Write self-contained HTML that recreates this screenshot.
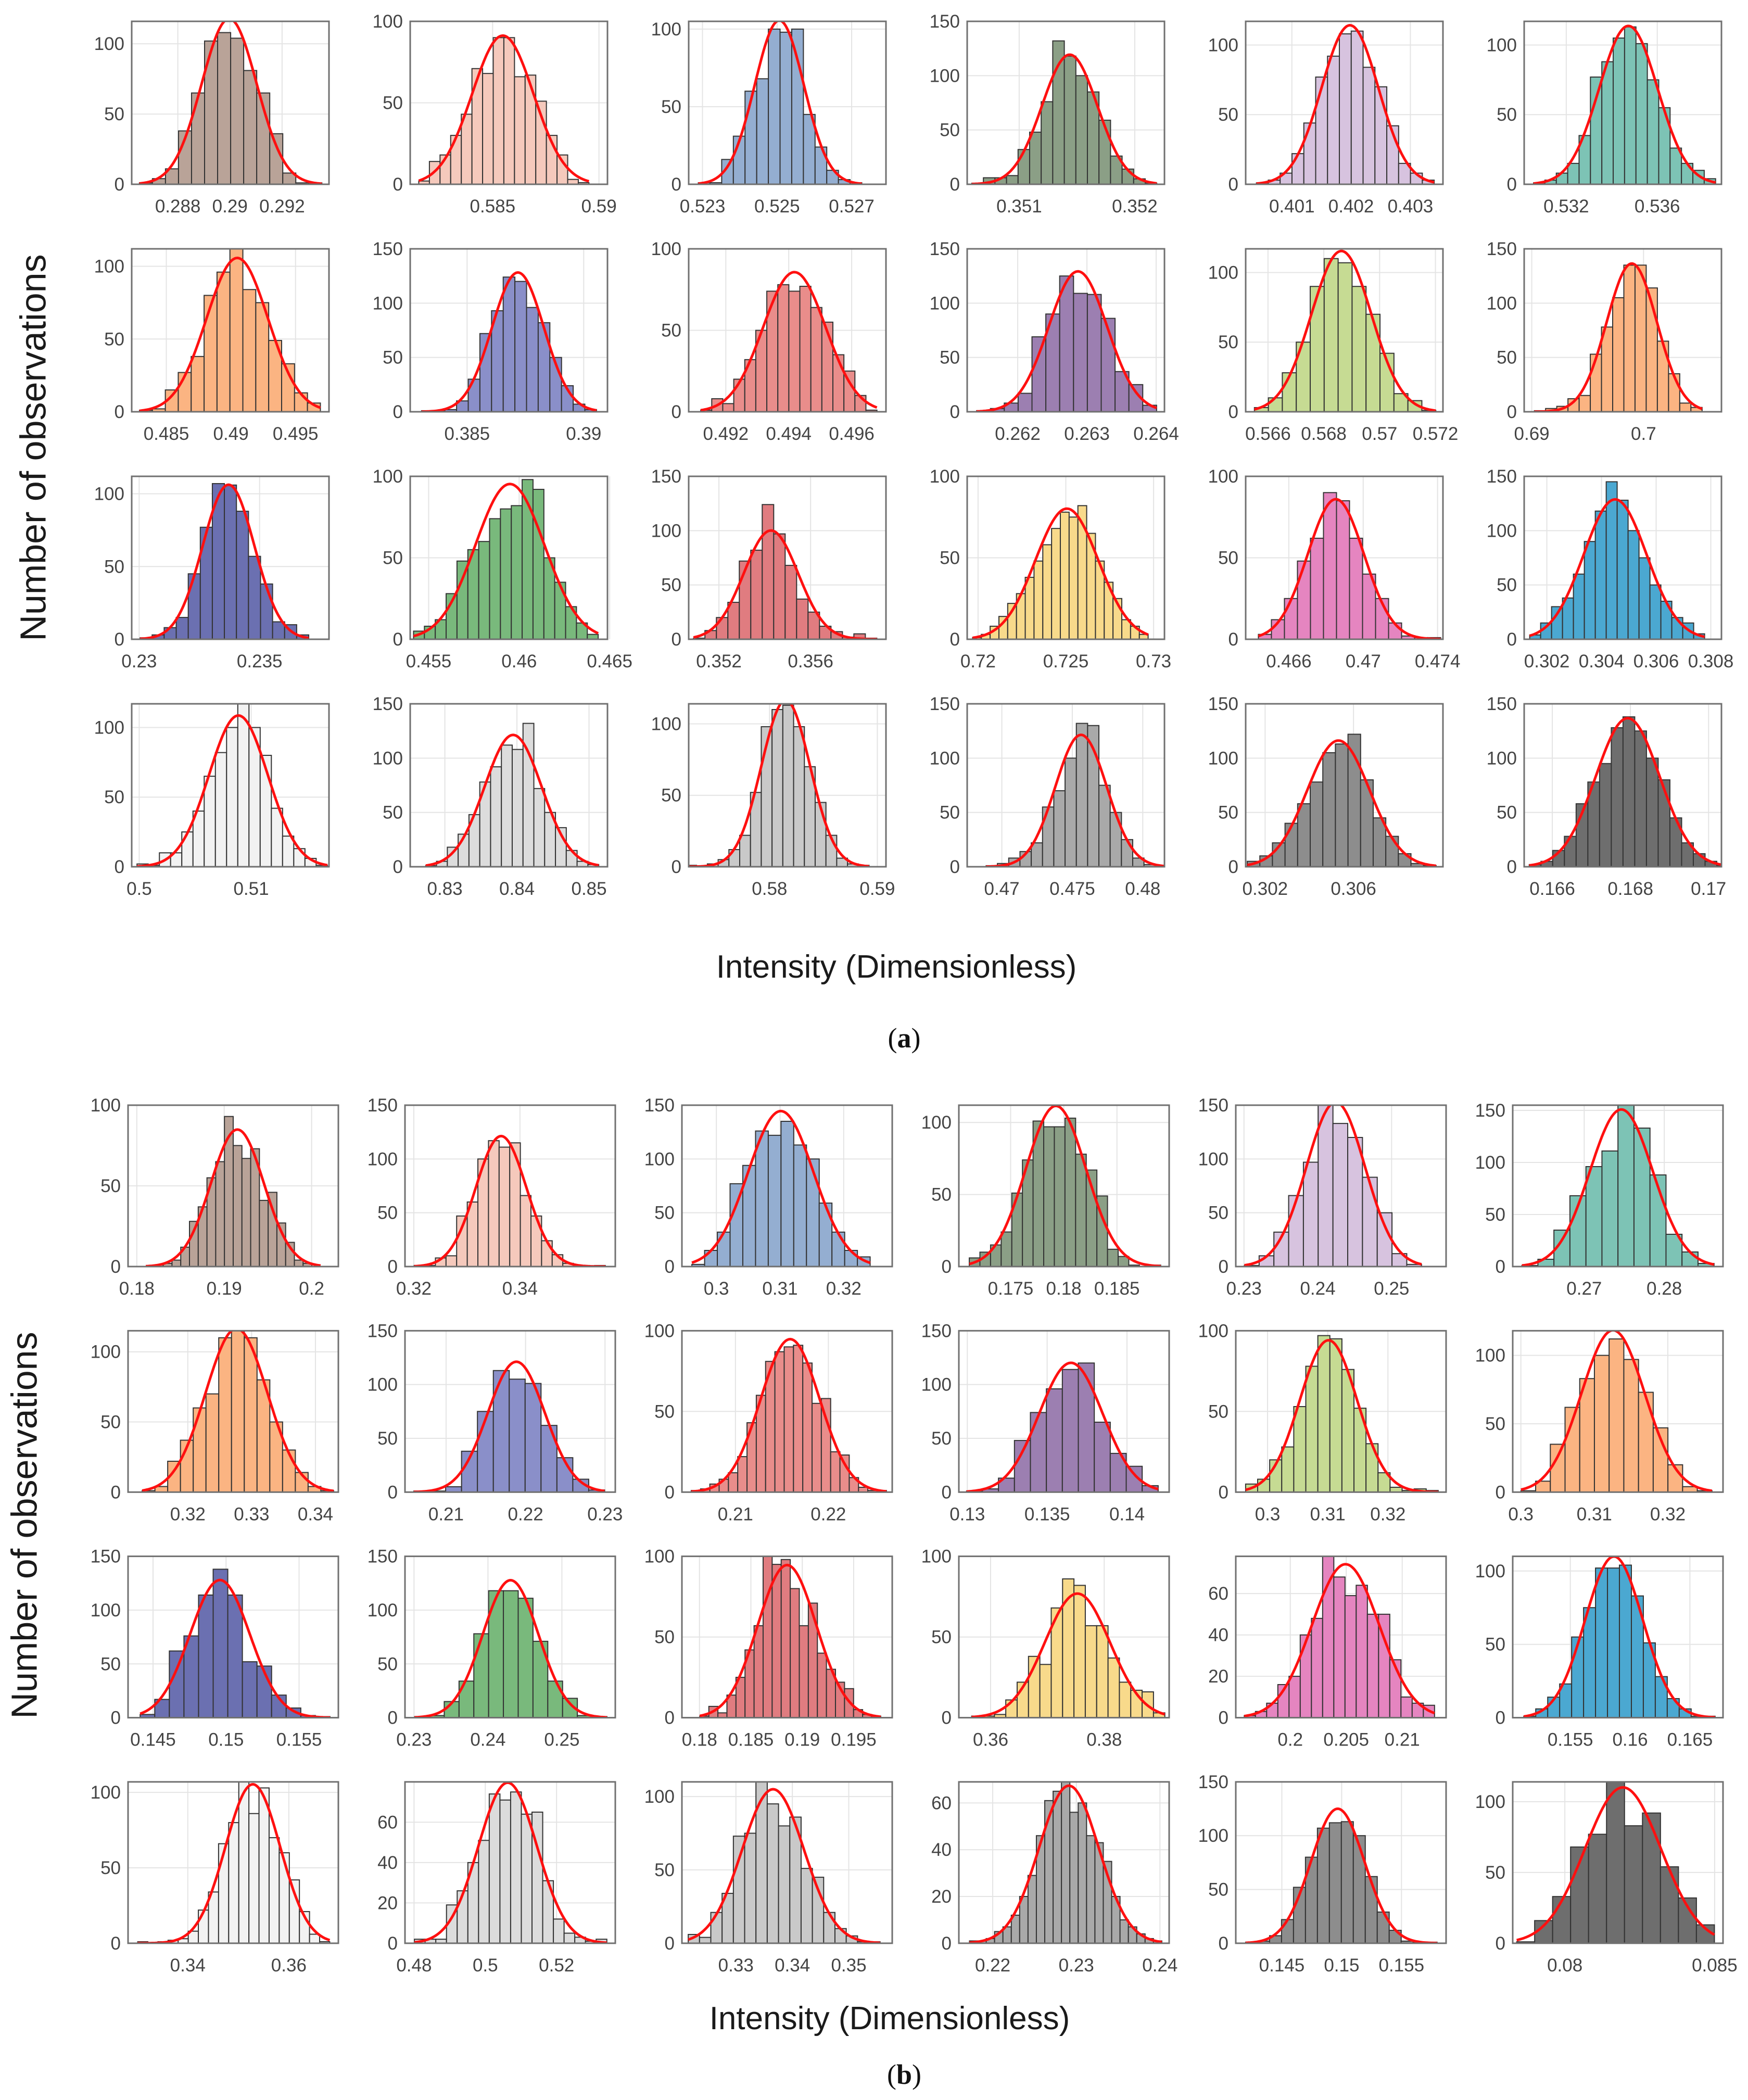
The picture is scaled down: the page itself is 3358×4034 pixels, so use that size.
<!DOCTYPE html>
<html><head><meta charset="utf-8"><title>Histograms</title>
<style>
html,body{margin:0;padding:0;background:#fff;}
svg{display:block;}
text{font-family:"Liberation Sans",sans-serif;}
</style></head>
<body>
<svg id="fig" xmlns="http://www.w3.org/2000/svg" width="3358" height="4034" viewBox="0 0 3358 4034">
<rect x="0" y="0" width="3358" height="4034" fill="#fff"/>
<text x="69" y="860" transform="rotate(-90 69 860)" text-anchor="middle" dominant-baseline="middle" font-size="70" fill="#1a1a1a">Number of observations</text>
<text x="1722" y="1878" text-anchor="middle" font-size="62" fill="#1a1a1a">Intensity (Dimensionless)</text>
<text x="1737" y="2012" text-anchor="middle" font-size="54" fill="#111" style="font-family:'Liberation Serif',serif">(<tspan font-weight="bold">a</tspan>)</text>
<text x="52" y="2930" transform="rotate(-90 52 2930)" text-anchor="middle" dominant-baseline="middle" font-size="70" fill="#1a1a1a">Number of observations</text>
<text x="1709" y="3898" text-anchor="middle" font-size="62" fill="#1a1a1a">Intensity (Dimensionless)</text>
<text x="1737" y="4003" text-anchor="middle" font-size="54" fill="#111" style="font-family:'Liberation Serif',serif">(<tspan font-weight="bold">b</tspan>)</text>
</svg>
<script>
// ---- data (one entry per panel, 24 in (a) then 24 in (b)) ----
const xMin = [0.28623,0.581125,0.52263,0.35055,0.40022,0.53015, 0.48232,0.38256,0.49082,0.26127,0.5652,0.68932, 0.22969,0.45398,0.35068,0.71938,0.46368,0.30117, 0.49933,0.82519,0.5725,0.46754,0.30112,0.16528,
 0.179,0.31834,0.29459,0.17013,0.22889,0.26107, 0.31064,0.20483,0.20424,0.12947,0.29472,0.29889, 0.14329,0.22878,0.17829,0.35441,0.19513,0.15018, 0.32818,0.47746,0.32043,0.21595,0.14115,0.07826];
const xMax = [0.2938,0.5904,0.52792,0.352257,0.40355,0.53882, 0.49759,0.39102,0.49709,0.26412,0.57227,0.70697, 0.23788,0.46488,0.35929,0.73062,0.47429,0.30839, 0.51695,0.85256,0.5908,0.48154,0.31005,0.17033,
 0.20306,0.35796,0.32762,0.18991,0.25738,0.28734, 0.34359,0.23129,0.22687,0.14264,0.32966,0.32751, 0.15769,0.25722,0.19875,0.39143,0.21392,0.16777, 0.3698,0.53648,0.3577,0.2411,0.15873,0.08528];
const yMax = [116,100,105,150,117,117, 112,150,100,150,117,150, 112,100,150,100,100,150, 117,150,114,150,150,150,
 100,150,150,112,150,155, 115,150,100,150,100,118, 150,150,100,100,78,110, 107,80,110,69,150,114];
const xTicks = [
 ['0.288','0.29','0.292'],['0.585','0.59'],['0.523','0.525','0.527'],['0.351','0.352'],['0.401','0.402','0.403'],['0.532','0.536'],
 ['0.485','0.49','0.495'],['0.385','0.39'],['0.492','0.494','0.496'],['0.262','0.263','0.264'],['0.566','0.568','0.57','0.572'],['0.69','0.7'],
 ['0.23','0.235'],['0.455','0.46','0.465'],['0.352','0.356'],['0.72','0.725','0.73'],['0.466','0.47','0.474'],['0.302','0.304','0.306','0.308'],
 ['0.5','0.51'],['0.83','0.84','0.85'],['0.58','0.59'],['0.47','0.475','0.48'],['0.302','0.306'],['0.166','0.168','0.17'],
 ['0.18','0.19','0.2'],['0.32','0.34'],['0.3','0.31','0.32'],['0.175','0.18','0.185'],['0.23','0.24','0.25'],['0.27','0.28'],
 ['0.32','0.33','0.34'],['0.21','0.22','0.23'],['0.21','0.22'],['0.13','0.135','0.14'],['0.3','0.31','0.32'],['0.3','0.31','0.32'],
 ['0.145','0.15','0.155'],['0.23','0.24','0.25'],['0.18','0.185','0.19','0.195'],['0.36','0.38'],['0.2','0.205','0.21'],['0.155','0.16','0.165'],
 ['0.34','0.36'],['0.48','0.5','0.52'],['0.33','0.34','0.35'],['0.22','0.23','0.24'],['0.145','0.15','0.155'],['0.08','0.085']];
const yTicks = [
 [0,50,100],[0,50,100],[0,50,100],[0,50,100,150],[0,50,100],[0,50,100],
 [0,50,100],[0,50,100,150],[0,50,100],[0,50,100,150],[0,50,100],[0,50,100,150],
 [0,50,100],[0,50,100],[0,50,100,150],[0,50,100],[0,50,100],[0,50,100,150],
 [0,50,100],[0,50,100,150],[0,50,100],[0,50,100,150],[0,50,100,150],[0,50,100,150],
 [0,50,100],[0,50,100,150],[0,50,100,150],[0,50,100],[0,50,100,150],[0,50,100,150],
 [0,50,100],[0,50,100,150],[0,50,100],[0,50,100,150],[0,50,100],[0,50,100],
 [0,50,100,150],[0,50,100,150],[0,50,100],[0,50,100],[0,20,40,60],[0,50,100],
 [0,50,100],[0,20,40,60],[0,50,100],[0,20,40,60],[0,50,100,150],[0,50,100]];
const binWidth = [0.0005,0.0005,0.000313,0.0001,0.0002,0.0005, 0.001,0.0005,0.00035,0.0002,0.0005,0.001, 0.0005,0.0006,0.0005,0.0005,0.0007,0.0004, 0.001,0.0015,0.001,0.0008,0.00057,0.0003,
 0.001,0.002,0.002,0.001,0.002,0.002, 0.002,0.002,0.001,0.001,0.002,0.002, 0.001,0.002,0.00088,0.002,0.001,0.001, 0.002,0.003,0.002,0.001,0.001,0.0006];
const counts = [
 [1,4,11,38,65,102,108,104,81,65,36,8,1,1],
 [2,14,18,30,43,71,68,90,90,66,67,51,30,18,3,1],
 [1,1,16,31,60,68,100,98,100,45,24,9,3,1],
 [1,6,6,8,32,48,76,132,118,100,85,59,26,14,5,1],
 [1,3,8,22,44,77,92,108,110,84,70,42,15,8,3],
 [1,3,8,15,35,77,88,105,113,101,75,55,26,15,10,4],
 [1,2,15,27,38,80,96,112,84,75,49,33,13,6],
 [1,1,2,10,30,72,93,124,120,96,82,50,24,7,2],
 [1,8,5,20,32,50,74,78,74,77,64,55,35,25,10,1],
 [1,3,8,17,69,90,125,109,108,86,37,25,6],
 [3,10,28,50,90,110,107,90,70,42,13,8,1],
 [1,3,5,12,15,53,78,105,135,135,114,65,35,8,4],
 [1,3,8,15,45,77,107,106,88,57,38,12,10,3],
 [5,8,12,28,48,55,60,74,80,82,98,92,50,35,20,10,3],
 [1,8,20,34,72,82,124,97,68,37,25,12,7,2,5,1],
 [1,3,8,14,22,28,38,48,58,68,78,75,82,65,48,35,25,12,8,3],
 [3,12,25,48,62,90,85,62,40,25,10,2,1,1],
 [4,15,30,38,60,90,118,145,128,100,75,50,35,20,15,5],
 [2,1,10,10,25,40,65,82,100,117,100,80,42,22,13,6,1],
 [1,5,18,30,48,78,92,112,108,132,72,50,36,15,5,2],
 [1,0,2,5,12,22,52,98,110,113,98,70,45,22,6,2,1],
 [1,3,8,14,22,55,70,100,132,130,75,50,25,8,2,0],
 [5,10,22,40,58,78,105,113,122,80,45,28,12,3,1],
 [2,5,15,28,58,78,95,128,138,125,100,80,45,22,12,5,1],
 [0,1,2,4,12,28,37,55,65,93,75,67,73,41,46,27,15,4,2,0],
 [1,1,8,10,47,60,100,117,111,115,66,47,24,11,3,1,0,1],
 [2,15,32,77,94,126,122,135,113,100,59,32,15,9],
 [6,10,15,24,51,74,101,97,97,103,78,67,49,12,7,1,0,1],
 [1,10,32,66,97,155,133,120,83,50,12,2],
 [1,7,35,68,96,111,157,133,88,31,14,3],
 [1,4,22,37,60,70,110,115,110,80,50,30,14,4,1],
 [1,1,5,38,75,113,105,101,62,32,12,2],
 [1,2,5,8,12,22,43,60,81,87,90,91,80,55,58,25,23,9,3,1,1],
 [1,3,13,48,74,96,114,120,65,36,24,6],
 [5,8,20,28,53,78,97,95,76,52,30,12,3,1,2,1],
 [1,8,35,62,83,100,112,97,73,47,20,4,1],
 [3,17,62,76,114,138,114,52,48,21,9,2,1],
 [1,2,15,34,78,118,118,111,71,34,18,2,1],
 [1,7,3,14,25,42,57,100,95,98,80,57,71,40,30,22,18,5,2,1],
 [1,1,2,11,22,38,33,68,86,82,57,57,37,22,17,16,3],
 [1,3,7,16,20,40,48,80,68,59,64,50,50,28,10,7,6],
 [1,6,14,23,55,75,102,102,104,83,51,28,13,6,1,1],
 [1,0,1,2,3,8,22,34,66,80,110,86,103,70,60,42,21,6,1],
 [2,2,2,19,26,40,51,74,71,75,64,65,31,12,5,3,1,2],
 [6,4,21,34,73,75,115,95,80,86,51,45,21,10,5,1,1],
 [1,1,2,5,7,12,20,29,46,61,65,69,56,60,46,43,35,20,10,7,4,2,1],
 [1,2,7,22,52,80,107,112,113,100,62,29,12,2,1,1],
 [1,16,33,68,77,114,83,92,54,32,13]];
// sample mean of each panel (centre of the fitted normal curve)
const fitMu = [0.28997,0.58548,0.52506,0.351437,0.40198,0.53473, 0.49049,0.38718,0.49418,0.26287,0.56863,0.69895, 0.23371,0.45949,0.35427,0.72506,0.46853,0.3045, 0.50886,0.83947,0.5815,0.47562,0.30532,0.16793,
 0.19151,0.33645,0.31012,0.17926,0.24243,0.27464, 0.32763,0.21884,0.21589,0.13649,0.31012,0.31255, 0.14958,0.24306,0.18852,0.37528,0.20494,0.15865, 0.35287,0.50628,0.33658,0.22911,0.14967,0.08194];
const barColors = ['#b9a398','#f5c9bc','#94aed1','#8b9f86','#d7c3df','#7dc3b5','#fbb482','#8a8fc9','#e98d8b','#9c7fb1','#c6db93','#fbb482',
 '#6b70b1','#79b97c','#e07c80','#f8da8b','#e585c0','#4ba8d1','#f2f2f2','#dcdcdc','#c9c9c9','#a9a9a9','#8d8d8d','#6e6e6e'];

// ---- layout ----
const NS = 'http://www.w3.org/2000/svg';
const svg = document.getElementById('fig');
function mk(tag, attrs, parent) {
  const e = document.createElementNS(NS, tag);
  for (const k in attrs) e.setAttribute(k, attrs[k]);
  (parent || svg).appendChild(e);
  return e;
}
function boxOf(i) {
  const part = i < 24 ? 0 : 1, k = i % 24, r = Math.floor(k / 6), c = k % 6;
  if (part === 0) return { x: 253 + 535 * c, y: 41 + 437 * r, w: 379, h: 313 };
  return { x: 246 + 532 * c, y: 2123 + 433.3 * r, w: 404, h: 310 };
}
const defs = mk('defs', {});
for (let i = 0; i < 48; i++) {
  const b = boxOf(i);
  const xs = v => b.x + (v - xMin[i]) / (xMax[i] - xMin[i]) * b.w;
  const ys = v => b.y + b.h - v / yMax[i] * b.h;
  const cs = counts[i], bw = binWidth[i], n = cs.length;
  // histogram statistics (bins centred on the sample mean)
  let N = 0, m1 = 0, m2 = 0;
  cs.forEach((v, j) => { N += v; m1 += v * (j + 0.5); });
  m1 /= N;
  cs.forEach((v, j) => { m2 += v * Math.pow(j + 0.5 - m1, 2); });
  const sd = Math.sqrt(m2 / N) * bw;
  const start = fitMu[i] - m1 * bw;
  const peak = N * bw / (sd * Math.sqrt(2 * Math.PI));

  const g = mk('g', {});
  
  
  const cp = mk('clipPath', { id: 'cp' + i }, defs);
  mk('rect', { x: b.x, y: b.y, width: b.w, height: b.h }, cp);
  mk('rect', { x: b.x, y: b.y, width: b.w, height: b.h, fill: '#fff' }, g);
  yTicks[i].forEach(t => {
    if (t === 0) return;
    const gl = mk('line', { x1: b.x, x2: b.x + b.w, y1: ys(t), y2: ys(t), stroke: '#e4e4e4', 'stroke-width': 2 }, g);
    
    
  });
  xTicks[i].forEach(t => {
    const gl = mk('line', { x1: xs(parseFloat(t)), x2: xs(parseFloat(t)), y1: b.y, y2: b.y + b.h, stroke: '#e4e4e4', 'stroke-width': 2 }, g);
    
    
  });
  const bg = mk('g', { 'clip-path': 'url(#cp' + i + ')' }, g);
  cs.forEach((v, j) => {
    const x0 = xs(start + j * bw), x1 = xs(start + (j + 1) * bw);
    const y0 = ys(v);
    const r = mk('rect', { x: x0, y: y0, width: Math.max(0, x1 - x0), height: Math.max(0, b.y + b.h - y0), fill: barColors[i % 24], stroke: '#333', 'stroke-width': 2 }, bg);
    
    
  });
  const lo = start, hi = start + n * bw;
  let d = '';
  for (let s = 0; s <= 120; s++) {
    const xv = lo + (hi - lo) * s / 120;
    const yv = peak * Math.exp(-0.5 * Math.pow((xv - fitMu[i]) / sd, 2));
    d += (s ? 'L' : 'M') + xs(xv).toFixed(1) + ',' + ys(yv).toFixed(1);
  }
  const fc = mk('path', { d: d, fill: 'none', stroke: '#ff1010', 'stroke-width': 5, 'stroke-linejoin': 'round' }, bg);
  
  
  const bx = mk('rect', { x: b.x, y: b.y, width: b.w, height: b.h, fill: 'none', stroke: '#707070', 'stroke-width': 3 }, g);
  
  
  yTicks[i].forEach(t => {
    const tl = mk('text', { x: b.x - 14, y: ys(t) + 12, 'text-anchor': 'end', 'font-size': 35, fill: '#444' }, g);
    tl.textContent = String(t);
    
    
  });
  xTicks[i].forEach(t => {
    const tl = mk('text', { x: xs(parseFloat(t)), y: b.y + b.h + 54, 'text-anchor': 'middle', 'font-size': 35, fill: '#444' }, g);
    tl.textContent = t;
    
    
  });
}
</script>
</body></html>
